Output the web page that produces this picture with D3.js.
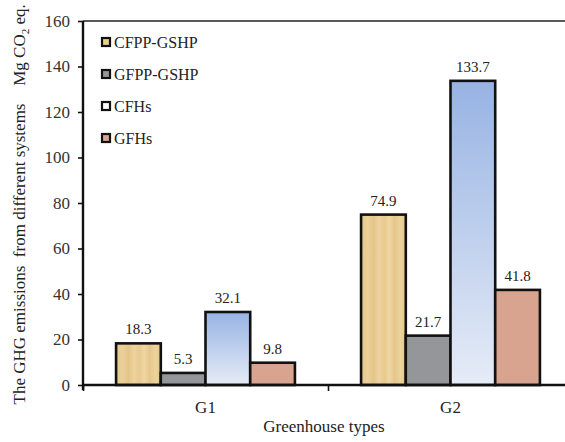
<!DOCTYPE html>
<html>
<head>
<meta charset="utf-8">
<script src="https://cdn.jsdelivr.net/npm/d3@7"></script>
<style>
  html, body { margin: 0; padding: 0; background: #fff; }
  svg, svg text { font-family: "Liberation Serif", "Times New Roman", serif !important; }
  svg { display: block; }
  text { white-space: pre; }
</style>
</head>
<body>
<svg id="chart" width="565" height="442"></svg>
<script>
// ---- Data ----
const groups = ["G1", "G2"];
const seriesNames = ["CFPP-GSHP", "GFPP-GSHP", "CFHs", "GFHs"];
const cfppGshp = [18.3, 74.9];
const gfppGshp = [5.3, 21.7];
const cfhs = [32.1, 133.7];
const gfhs = [9.8, 41.8];
const yTicks = [0, 20, 40, 60, 80, 100, 120, 140, 160];
const xTitle = "Greenhouse types";
const yTitleMain = "The GHG emissions  from different systems";

const seriesValues = [cfppGshp, gfppGshp, cfhs, gfhs];

const svg = d3.select("#chart");

// ---- Definitions (fills) ----
const defs = svg.append("defs");
const tan = defs.append("linearGradient").attr("id", "fillTan")
  .attr("x1", "0%").attr("x2", "100%").attr("y1", "0%").attr("y2", "0%");
[["0%", "#e6c98d"], ["15%", "#ebd09a"], ["28%", "#e4c587"], ["40%", "#edd3a0"],
 ["52%", "#e7ca8e"], ["63%", "#efd6a4"], ["75%", "#e5c78a"], ["88%", "#ecd29c"], ["100%", "#e5c88b"]]
  .forEach(([o, c]) => tan.append("stop").attr("offset", o).attr("stop-color", c));

const blue = defs.append("linearGradient").attr("id", "fillBlue")
  .attr("x1", "0%").attr("x2", "0%").attr("y1", "0%").attr("y2", "100%");
blue.append("stop").attr("offset", "0%").attr("stop-color", "#97b3e3");
blue.append("stop").attr("offset", "100%").attr("stop-color", "#e6ecf7");

const fills = ["url(#fillTan)", "#949699", "url(#fillBlue)", "#d9a48f"];
const legendFills = ["#e8cc90", "#949699", "#ffffff", "#d9a48f"];

// ---- Layout ----
const mLeft = 83, mRight = 573, mTop = 21, mBottom = 385;

const y = d3.scaleLinear().domain([0, 160]).range([mBottom, mTop]);
const x0 = d3.scaleBand().domain(groups).range([mLeft, mRight]).padding(0);
const x1 = d3.scaleBand().domain(seriesNames)
  .range([x0.bandwidth() * 0.135, x0.bandwidth() * 0.865]).padding(0);

// ---- Top border ----
svg.append("line")
  .attr("x1", mLeft).attr("x2", mRight).attr("y1", y(160)).attr("y2", y(160))
  .attr("stroke", "#222").attr("stroke-width", 1.5);

// ---- Bars ----
const g = svg.append("g");
groups.forEach((grp, gi) => {
  seriesNames.forEach((s, si) => {
    const v = seriesValues[si][gi];
    const bx = x0(grp) + x1(s);
    g.append("rect")
      .attr("x", bx).attr("y", y(v))
      .attr("width", x1.bandwidth()).attr("height", y(0) - y(v))
      .attr("fill", fills[si])
      .attr("stroke", "#111").attr("stroke-width", 2.6);
    g.append("text")
      .attr("x", bx + x1.bandwidth() / 2).attr("y", y(v) - 9)
      .attr("text-anchor", "middle")
      .attr("font-size", 15).attr("fill", "#222")
      .text(v.toFixed(1));
  });
});

// ---- Y axis ----
const yAxis = d3.axisLeft(y).tickValues(yTicks).tickSize(5).tickPadding(8).tickFormat(d3.format("d"));
const ya = svg.append("g").attr("transform", `translate(${mLeft},0)`).call(yAxis);
ya.attr("font-family", null).attr("font-size", null);
ya.select(".domain").attr("stroke", "#111").attr("stroke-width", 2.4)
  .attr("d", `M0,${mTop}V${mBottom + 5}`);
ya.selectAll(".tick line").attr("stroke", "#111").attr("stroke-width", 1.6);
ya.selectAll(".tick text").attr("font-size", 17).attr("fill", "#333");

// ---- X axis ----
const xb = d3.scaleLinear().domain([0, 2]).range([mLeft, mRight]);
const xAxis = d3.axisBottom(xb).tickValues([0, 1, 2]).tickSize(6).tickFormat("");
const xa = svg.append("g").attr("transform", `translate(0,${mBottom})`).call(xAxis);
xa.attr("font-family", null);
xa.select(".domain").attr("stroke", "#111").attr("stroke-width", 2.4)
  .attr("d", `M${mLeft},0H${mRight}`);
xa.selectAll(".tick line").attr("stroke", "#111").attr("stroke-width", 1.6);

groups.forEach(grp => {
  svg.append("text")
    .attr("x", x0(grp) + x0.bandwidth() / 2).attr("y", mBottom + 28)
    .attr("text-anchor", "middle").attr("font-size", 17).attr("fill", "#222")
    .text(grp);
});

svg.append("text")
  .attr("x", 324).attr("y", 432)
  .attr("text-anchor", "middle").attr("font-size", 17).attr("fill", "#222")
  .text(xTitle);

// ---- Y title ----
svg.append("text")
  .attr("transform", "translate(25,254) rotate(-90)")
  .attr("text-anchor", "middle").attr("font-size", 17).attr("fill", "#222")
  .text(yTitleMain);

const yt2 = svg.append("text")
  .attr("transform", "translate(25,45) rotate(-90)")
  .attr("text-anchor", "middle").attr("font-size", 17).attr("fill", "#222");
yt2.append("tspan").text("Mg CO");
yt2.append("tspan").attr("font-size", 11).attr("dy", 4).text("2");
yt2.append("tspan").attr("dy", -4).text(" eq.");

// ---- Legend ----
const leg = svg.append("g");
seriesNames.forEach((s, i) => {
  const ly = 43 + i * 32;
  leg.append("rect")
    .attr("x", 102).attr("y", ly - 5).attr("width", 8).attr("height", 8)
    .attr("fill", legendFills[i]).attr("stroke", "#111").attr("stroke-width", 2.2);
  leg.append("text")
    .attr("x", 114).attr("y", ly + 5)
    .attr("font-size", 16).attr("fill", "#222")
    .text(s);
});
</script>
</body>
</html>
